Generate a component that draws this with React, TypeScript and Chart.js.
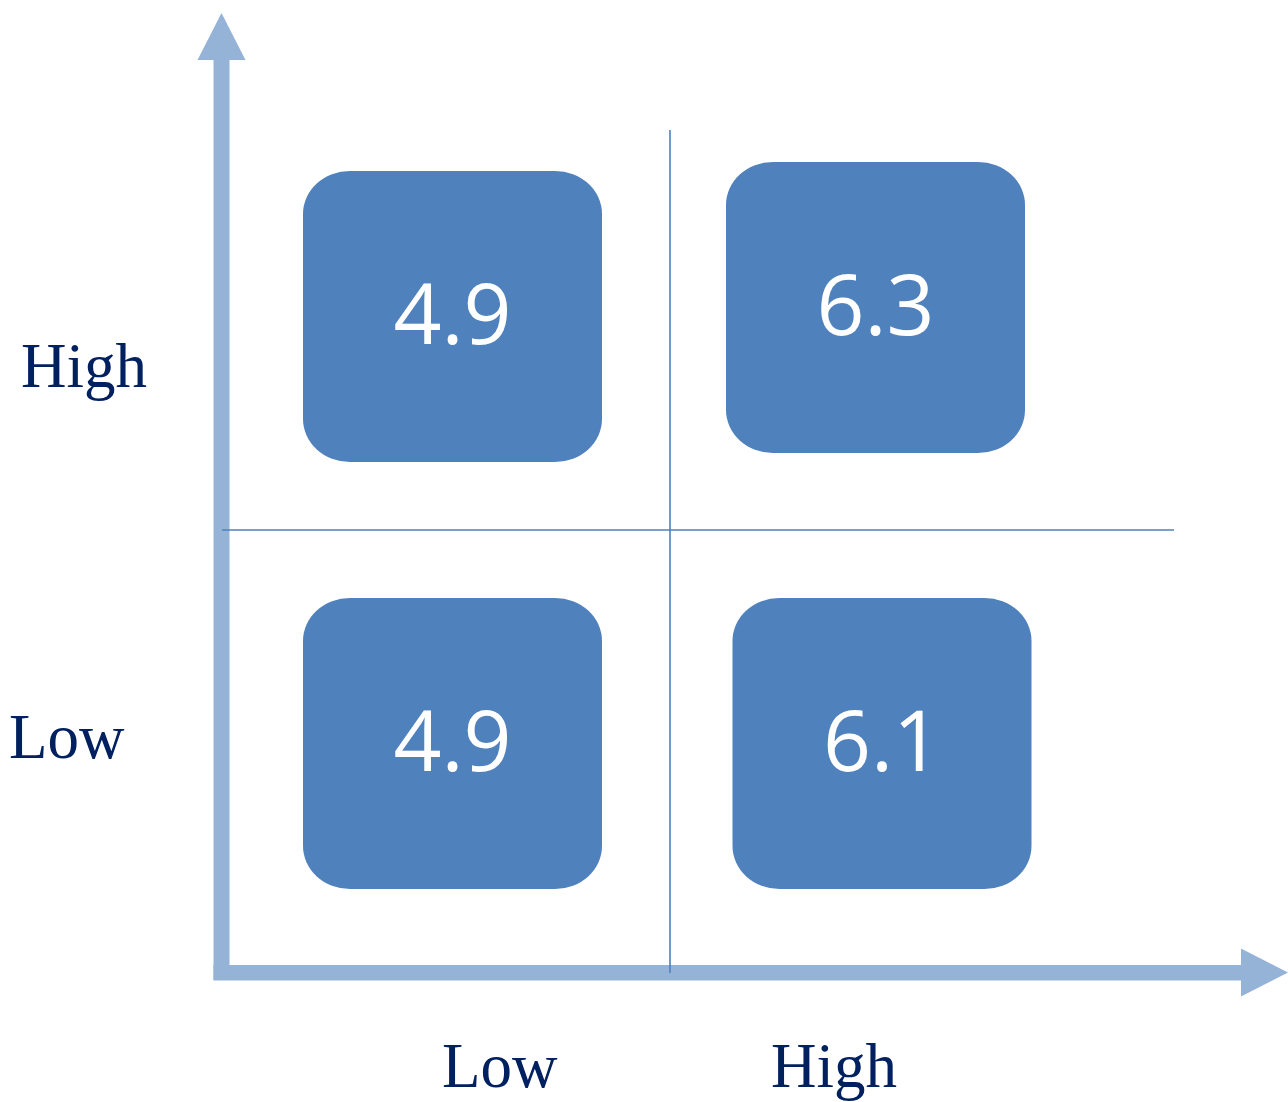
import React, { useEffect, useRef } from "react";
import { Chart, registerables } from "chart.js";

Chart.register(...registerables);

// ---- data ----
const xCategories = ["Low", "High"];
const yCategories = ["High", "Low"]; // top row first
const rowHighValues = [4.9, 6.3];
const rowLowValues = [4.9, 6.1];

// ---- layout (pixels) ----
const W = 1288;
const H = 1102;
const BOX_W = 299;
const BOX_H = 291;
const BOX_RX = 47;
const BOX_RY = 43;
const BOX_NUDGE = [
  [{ dx: 0, dy: 4.5 }, { dx: -3, dy: -4.5 }],
  [{ dx: 0, dy: 0 }, { dx: 3.5, dy: 0 }],
];
const AXIS_COLOR = "#95B3D7";
const BOX_COLOR = "#4F81BD";
const GRID_COLOR = "#4F81BD";
const LABEL_COLOR = "#002060";

function roundedEllipseRect(ctx: CanvasRenderingContext2D, x: number, y: number, w: number, h: number, rx: number, ry: number) {
  ctx.beginPath();
  ctx.moveTo(x + rx, y);
  ctx.lineTo(x + w - rx, y);
  ctx.ellipse(x + w - rx, y + ry, rx, ry, 0, -Math.PI / 2, 0);
  ctx.lineTo(x + w, y + h - ry);
  ctx.ellipse(x + w - rx, y + h - ry, rx, ry, 0, 0, Math.PI / 2);
  ctx.lineTo(x + rx, y + h);
  ctx.ellipse(x + rx, y + h - ry, rx, ry, 0, Math.PI / 2, Math.PI);
  ctx.lineTo(x, y + ry);
  ctx.ellipse(x + rx, y + ry, rx, ry, 0, Math.PI, Math.PI * 1.5);
  ctx.closePath();
}

const matrixPlugin = {
  id: "matrixPlugin",
  beforeDatasetsDraw(chart: any) {
    const ctx: CanvasRenderingContext2D = chart.ctx;
    ctx.save();
    // axes arrows
    ctx.fillStyle = AXIS_COLOR;
    // vertical shaft
    ctx.fillRect(213.5, 58, 16, 922);
    // vertical head
    ctx.beginPath();
    ctx.moveTo(221.5, 13);
    ctx.lineTo(245.5, 60);
    ctx.lineTo(197.5, 60);
    ctx.closePath();
    ctx.fill();
    // horizontal shaft
    ctx.fillRect(213.5, 965, 1029, 15.5);
    // horizontal head
    ctx.beginPath();
    ctx.moveTo(1241, 948.5);
    ctx.lineTo(1288, 972.5);
    ctx.lineTo(1241, 996.5);
    ctx.closePath();
    ctx.fill();

    // quadrant dividers
    ctx.strokeStyle = GRID_COLOR;
    ctx.lineWidth = 1.6;
    ctx.beginPath();
    ctx.moveTo(670, 130);
    ctx.lineTo(670, 973);
    ctx.moveTo(222, 530);
    ctx.lineTo(1174, 530);
    ctx.stroke();

    // axis category labels
    ctx.fillStyle = LABEL_COLOR;
    ctx.font = '63px "Liberation Serif", "Times New Roman", serif';
    ctx.textAlign = "left";
    ctx.textBaseline = "alphabetic";
    ctx.fillText(yCategories[0], 21, 387);
    ctx.fillText(yCategories[1], 9, 758);
    ctx.fillText(xCategories[0], 442, 1087);
    ctx.fillText(xCategories[1], 771, 1087);
    ctx.restore();
  },
  afterDatasetsDraw(chart: any) {
    const ctx: CanvasRenderingContext2D = chart.ctx;
    const meta = chart.getDatasetMeta(0);
    const ds = chart.data.datasets[0];
    ctx.save();
    meta.data.forEach((el: any, i: number) => {
      const raw = ds.data[i];
      const n = BOX_NUDGE[raw.y][raw.x];
      const cx = el.x + n.dx;
      const cy = el.y + n.dy;
      ctx.fillStyle = BOX_COLOR;
      roundedEllipseRect(ctx, cx - BOX_W / 2, cy - BOX_H / 2, BOX_W, BOX_H, BOX_RX, BOX_RY);
      ctx.fill();
      ctx.fillStyle = "#FFFFFF";
      ctx.font = '84px "Open Sans", "DejaVu Sans", sans-serif';
      ctx.textAlign = "center";
      ctx.textBaseline = "alphabetic";
      ctx.fillText(raw.v.toFixed(1), cx, cy + 27);
    });
    ctx.restore();
  },
};

export default function App() {
  const ref = useRef<HTMLCanvasElement | null>(null);
  useEffect(() => {
    if (!ref.current) return;
    const rows = [rowHighValues, rowLowValues];
    const points: { x: number; y: number; v: number }[] = [];
    rows.forEach((vals, r) => vals.forEach((v, c) => points.push({ x: c, y: r, v })));
    const chart = new Chart(ref.current, {
      type: "scatter",
      data: {
        datasets: [
          {
            label: "score",
            data: points as any,
            pointRadius: 0,
            pointHoverRadius: 0,
          },
        ],
      },
      options: {
        animation: false,
        responsive: false,
        devicePixelRatio: 1,
        events: [],
        layout: { padding: { left: 239.5, right: 196.5, top: 96.25, bottom: 142.75 } },
        plugins: { legend: { display: false }, tooltip: { enabled: false } },
        scales: {
          x: { type: "linear", min: -0.5, max: 1.5, display: false },
          y: { type: "linear", min: -0.5, max: 1.5, reverse: true, display: false },
        },
      },
      plugins: [matrixPlugin],
    });
    return () => chart.destroy();
  }, []);
  return (
    <div style={{ position: "absolute", left: 0, top: 0, width: W, height: H, background: "#fff" }}>
      <canvas ref={ref} width={W} height={H} style={{ display: "block", width: W, height: H }} />
    </div>
  );
}
